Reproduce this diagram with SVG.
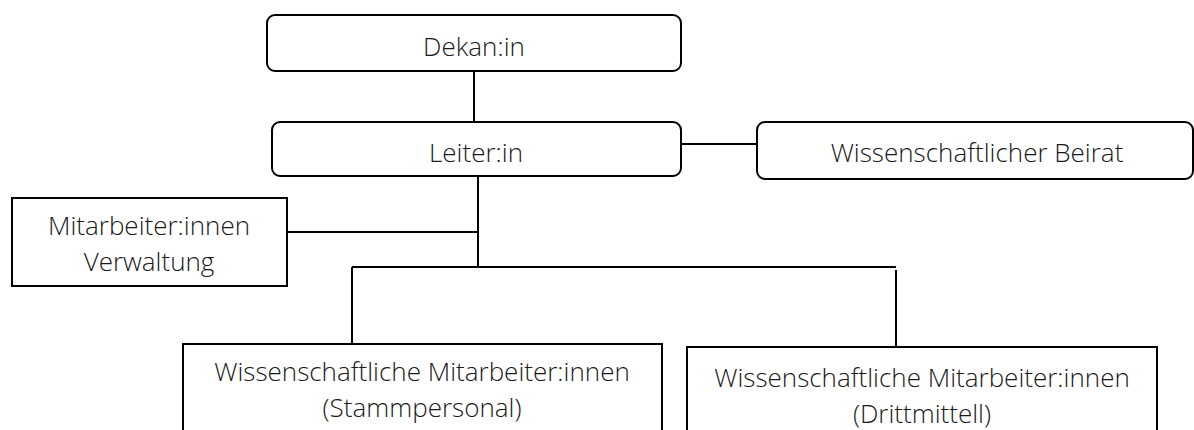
<svg xmlns="http://www.w3.org/2000/svg" width="1194" height="430" viewBox="0 0 1194 430">
<style>
.box{fill:#fff;stroke:#000;stroke-width:2}
.ln{stroke:#000;stroke-width:2;fill:none}
text{font-family:"Open Sans","Liberation Sans",sans-serif;font-weight:300;font-size:26px;fill:#1a1a1a;text-anchor:middle}
</style>
<rect width="1194" height="430" fill="#fff"/>
<g id="connectors">
<line class="ln" x1="474" y1="71" x2="474" y2="122"/>
<line class="ln" x1="681" y1="144" x2="757" y2="144"/>
<line class="ln" x1="478" y1="176" x2="478" y2="267"/>
<line class="ln" x1="287" y1="232" x2="478" y2="232"/>
<line class="ln" x1="352" y1="267" x2="896" y2="267"/>
<line class="ln" x1="352" y1="267" x2="352" y2="344"/>
<line class="ln" x1="896" y1="270" x2="896" y2="347"/>
</g>
<g id="dekan"><rect class="box" x="267" y="15" width="414" height="56" rx="8"/><text x="474" y="56">Dekan:in</text></g>
<g id="leiter"><rect class="box" x="272" y="122" width="409" height="54" rx="8"/><text x="476" y="162">Leiter:in</text></g>
<g id="beirat"><rect class="box" x="757" y="122" width="436" height="57" rx="8"/><text x="977" y="162">Wissenschaftlicher Beirat</text></g>
<g id="verwaltung"><rect class="box" x="12" y="198" width="275" height="88"/><text x="149" y="235">Mitarbeiter:innen</text><text x="149" y="271">Verwaltung</text></g>
<g id="stamm"><rect class="box" x="183" y="344" width="479" height="100"/><text x="422" y="381">Wissenschaftliche Mitarbeiter:innen</text><text x="422" y="417">(Stammpersonal)</text></g>
<g id="dritt"><rect class="box" x="687" y="347" width="470" height="100"/><text x="922" y="387">Wissenschaftliche Mitarbeiter:innen</text><text x="922" y="423">(Drittmittell)</text></g>
</svg>
